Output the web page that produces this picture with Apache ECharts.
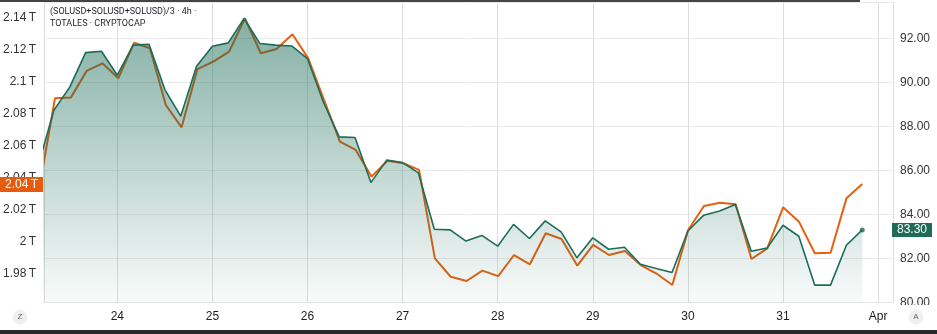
<!DOCTYPE html>
<html>
<head>
<meta charset="utf-8">
<script src="https://cdn.jsdelivr.net/npm/echarts@6/dist/echarts.min.js"></script>
<style>
html,body{margin:0;padding:0;background:#fff;}
#c{width:937px;height:334px;}
</style>
</head>
<body>
<div id="c"></div>
<script>
// ---- data (4h bars, first bar 23 Mar 04:00 UTC) ----
const startTime = Date.UTC(2025, 2, 23, 4, 0);
const barHours = 4;
const solValues = [86.20, 88.74, 89.79, 91.36, 91.42, 90.33, 91.70, 91.74, 89.68, 88.47,
  90.74, 91.65, 91.80, 92.91, 91.77, 91.70, 91.66, 91.09, 89.12, 87.53,
  87.50, 85.45, 86.47, 86.36, 85.89, 83.33, 83.30, 82.79, 83.05, 82.56,
  83.55, 82.91, 83.71, 83.21, 82.03, 82.94, 82.42, 82.51, 81.74, 81.55,
  81.36, 83.25, 83.97, 84.16, 84.45, 82.33, 82.48, 83.51, 83.01, 80.79,
  80.79, 82.60, 83.30];
const totalValues = [2.0329, 2.0897, 2.0901, 2.1068, 2.1116, 2.1022, 2.1245, 2.1210, 2.0855, 2.0715,
  2.1080, 2.1126, 2.1189, 2.1398, 2.1179, 2.1206, 2.1298, 2.1147, 2.0886, 2.0625,
  2.0573, 2.0406, 2.0506, 2.0490, 2.0448, 1.9894, 1.9779, 1.9752, 1.9817, 1.9783,
  1.9915, 1.9857, 2.0051, 2.0015, 1.9848, 1.9978, 1.9915, 1.9940, 1.9852, 1.9799,
  1.9727, 2.0072, 2.0222, 2.0243, 2.0233, 1.9890, 1.9957, 2.0214, 2.0124, 1.9926,
  1.9929, 2.0270, 2.0360];
const dayTickLabels = ['24', '25', '26', '27', '28', '29', '30', '31', 'Apr'];
const firstTickDay = Date.UTC(2025, 2, 24);
const titleLines = ['(SOLUSD+SOLUSD+SOLUSD)/3 \u00b7 4h \u00b7', 'TOTALES \u00b7 CRYPTOCAP'];

const viewMin = Date.UTC(2025, 2, 23, 5, 30);
const viewMax = Date.UTC(2025, 3, 1, 3, 46);
const DAY = 86400000;

const times = solValues.map((_, i) => startTime + i * barHours * 3600000);
const solData = solValues.map((v, i) => [times[i], v]);
const totData = totalValues.map((v, i) => [times[i], v]);

const GREEN = '#1b6c58';
const ORANGE = '#e8600f';
const FONT = 'Liberation Sans, Arial, sans-serif';

const chart = echarts.init(document.getElementById('c'));

function dayLabel(value) {
  if (value % DAY !== 0) return '';
  const idx = Math.round((value - firstTickDay) / DAY);
  return dayTickLabels[idx] || '';
}
function fmtT(v) {
  return parseFloat(v.toFixed(2)) + '\u2009T';
}

chart.setOption({
  animation: false,
  useUTC: true,
  backgroundColor: '#ffffff',
  grid: [
    { left: 44, right: 44, top: 2, bottom: 31.5 },
    { left: 44, right: 44, top: 2, bottom: 28.7 }
  ],
  xAxis: [
    {
      type: 'time', gridIndex: 0, min: viewMin, max: viewMax,
      minInterval: DAY, maxInterval: DAY,
      axisLine: { show: true, lineStyle: { color: '#e6e6e6' } },
      axisTick: { show: false },
      splitLine: { show: true, lineStyle: { color: '#dedede', width: 1 } },
      axisLabel: {
        formatter: dayLabel, color: '#1e1e1e', fontSize: 12, fontFamily: FONT,
        margin: 8, showMinLabel: false, showMaxLabel: false, hideOverlap: false
      }
    },
    {
      type: 'time', gridIndex: 1, min: viewMin, max: viewMax, show: false
    }
  ],
  yAxis: [
    {
      type: 'value', gridIndex: 0, position: 'right',
      min: 80, max: 80 + 300.5 / 22, interval: 2,
      axisLine: { show: false }, axisTick: { show: false },
      splitLine: { show: true, lineStyle: { color: '#ebebeb', width: 1 } },
      axisLabel: {
        formatter: v => v.toFixed(2), color: '#333', fontSize: 12, fontFamily: FONT,
        margin: 7, showMaxLabel: false
      }
    },
    {
      type: 'value', gridIndex: 1, position: 'left',
      min: 1.96, max: 2.15, interval: 0.02,
      axisLine: { show: false }, axisTick: { show: false },
      splitLine: { show: false },
      axisLabel: {
        formatter: fmtT, color: '#333', fontSize: 12, fontFamily: FONT,
        margin: 9, showMinLabel: false, showMaxLabel: false
      }
    }
  ],
  series: [
    {
      name: 'TOTALES', type: 'line', xAxisIndex: 1, yAxisIndex: 1,
      data: totData, symbol: 'none', z: 1,
      lineStyle: { color: ORANGE, width: 2 }
    },
    {
      name: 'SOL', type: 'line', xAxisIndex: 0, yAxisIndex: 0,
      data: solData, symbol: 'none', z: 3,
      lineStyle: { color: GREEN, width: 1.6 },
      areaStyle: {
        color: new echarts.graphic.LinearGradient(0, 2, 0, 302, [
          { offset: 0, color: 'rgba(22,105,85,0.8)' },
          { offset: 1, color: 'rgba(22,105,85,0.04)' }
        ], true)
      }
    },
    {
      name: 'SOL last', type: 'scatter', xAxisIndex: 0, yAxisIndex: 0,
      data: [solData[solData.length - 1]], symbol: 'circle', symbolSize: 5, z: 4,
      itemStyle: { color: GREEN }
    }
  ]
});

const yTot = chart.convertToPixel({ yAxisIndex: 1 }, totalValues[totalValues.length - 1]);
const ySol = chart.convertToPixel({ yAxisIndex: 0 }, solValues[solValues.length - 1]);
const TITLE_FONT = '9px Roboto, "Liberation Sans", sans-serif';

chart.setOption({
  graphic: [
    { type: 'rect', z: 100, shape: { x: 0, y: 0, width: 860, height: 2 }, style: { fill: '#444' } },
    { type: 'rect', z: 100, shape: { x: 893, y: 305, width: 44, height: 26 }, style: { fill: '#fff' } },
    { type: 'rect', z: 100, shape: { x: 0, y: 330, width: 937, height: 4 }, style: { fill: '#2a2a2a' } },
    { type: 'text', z: 100, x: 50, y: 7, style: { text: titleLines[0], fill: '#1f222b', font: TITLE_FONT } },
    { type: 'text', z: 100, x: 50, y: 19, style: { text: titleLines[1], fill: '#1f222b', font: TITLE_FONT } },
    { type: 'rect', z: 100, shape: { x: 0, y: yTot - 7, width: 43, height: 15 }, style: { fill: '#e65c0f' } },
    { type: 'text', z: 101, x: 21.5, y: yTot + 0.5, style: { text: fmtT(totalValues[totalValues.length - 1]), fill: '#fff', font: '12px ' + FONT, align: 'center', verticalAlign: 'middle' } },
    { type: 'rect', z: 100, shape: { x: 892, y: ySol - 7, width: 40, height: 14 }, style: { fill: '#1e6b57' } },
    { type: 'text', z: 101, x: 912, y: ySol, style: { text: solValues[solValues.length - 1].toFixed(2), fill: '#fff', font: '12px ' + FONT, align: 'center', verticalAlign: 'middle' } },
    { type: 'circle', z: 100, shape: { cx: 20, cy: 317, r: 7.5 }, style: { fill: '#f0f0f0' } },
    { type: 'text', z: 101, x: 20, y: 317, style: { text: 'Z', fill: '#666', font: '8px ' + FONT, align: 'center', verticalAlign: 'middle' } },
    { type: 'circle', z: 100, shape: { cx: 916, cy: 317, r: 7.5 }, style: { fill: '#f0f0f0' } },
    { type: 'text', z: 101, x: 916, y: 317, style: { text: 'A', fill: '#666', font: '8px ' + FONT, align: 'center', verticalAlign: 'middle' } }
  ]
});
</script>
</body>
</html>
